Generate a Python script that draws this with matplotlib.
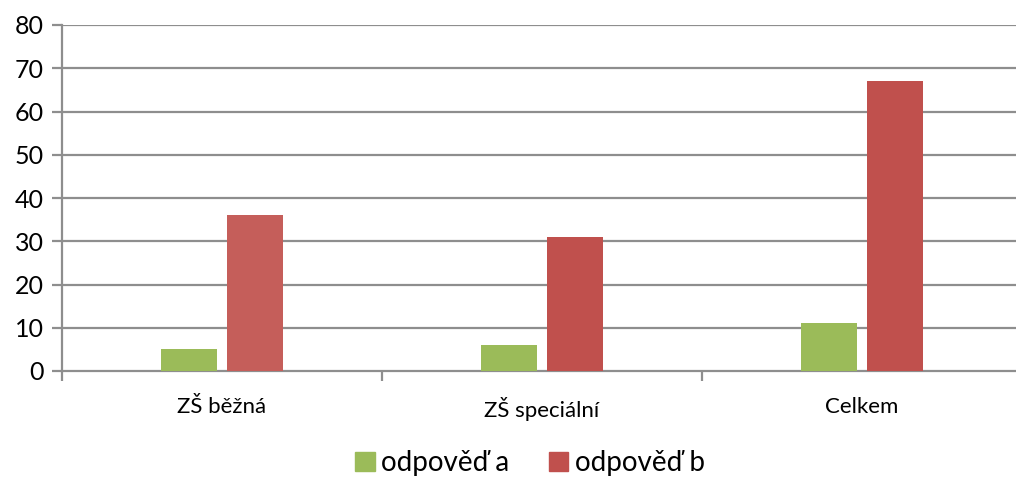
import numpy as np
import matplotlib.pyplot as plt
from matplotlib.patches import Patch

plt.rcParams['font.family'] = ['Lato', 'DejaVu Sans']

categories = ["ZŠ běžná", "ZŠ speciální", "Celkem"]
odpoved_a = [5, 6, 11]
odpoved_b = [36, 31, 67]
series_names = ["odpověď a", "odpověď b"]

GREEN = "#9bbb59"
RED = "#c0504d"
RED_LIGHT = "#c55e5a"
GRID = "#8e8e8e"

fig = plt.figure(figsize=(10.16, 4.79), dpi=100)
ax = fig.add_axes([62 / 1016, 1 - 371 / 479, 1 - 62 / 1016, 346 / 479])

x = np.arange(len(categories))
w = 0.175
off = 0.1016
ax.bar(x - off, odpoved_a, width=w, color=GREEN, zorder=3)
bars_b = ax.bar(x + off, odpoved_b, width=w, color=RED, zorder=3)
bars_b[0].set_facecolor(RED_LIGHT)

ax.set_ylim(0, 80)
ax.set_xlim(-0.5, 2.5 - 6 / 320)
ax.set_yticks(range(0, 81, 10))
for yv in range(10, 81, 10):
    ax.axhline(yv, color=GRID, lw=1.6, zorder=1)

for s in ["top", "right"]:
    ax.spines[s].set_visible(False)
for s in ["left", "bottom"]:
    ax.spines[s].set_color(GRID)
    ax.spines[s].set_linewidth(1.6)

# category ticks sit on the boundaries between groups
ax.set_xticks([-0.5, 0.5, 1.5], minor=False)
ax.set_xticklabels([])
ax.set_xticks(x, minor=True)
ax.set_xticklabels(categories, minor=True, fontsize=16)
ax.tick_params(axis="x", which="minor", length=0, pad=19)
ax.tick_params(axis="x", which="major", length=7, width=1.6, color=GRID)
ax.tick_params(axis="y", length=7, width=1.6, color=GRID, labelsize=18, pad=6)

handles = [Patch(color=GREEN), Patch(color=RED)]
fig.legend(handles, series_names, loc="center", bbox_to_anchor=(530 / 1016, 1 - 463 / 479),
           ncol=2, frameon=False, fontsize=20, handlelength=0.7, handleheight=0.7,
           handletextpad=0.25, columnspacing=1.4)

fig.savefig("out.png", dpi=100)
